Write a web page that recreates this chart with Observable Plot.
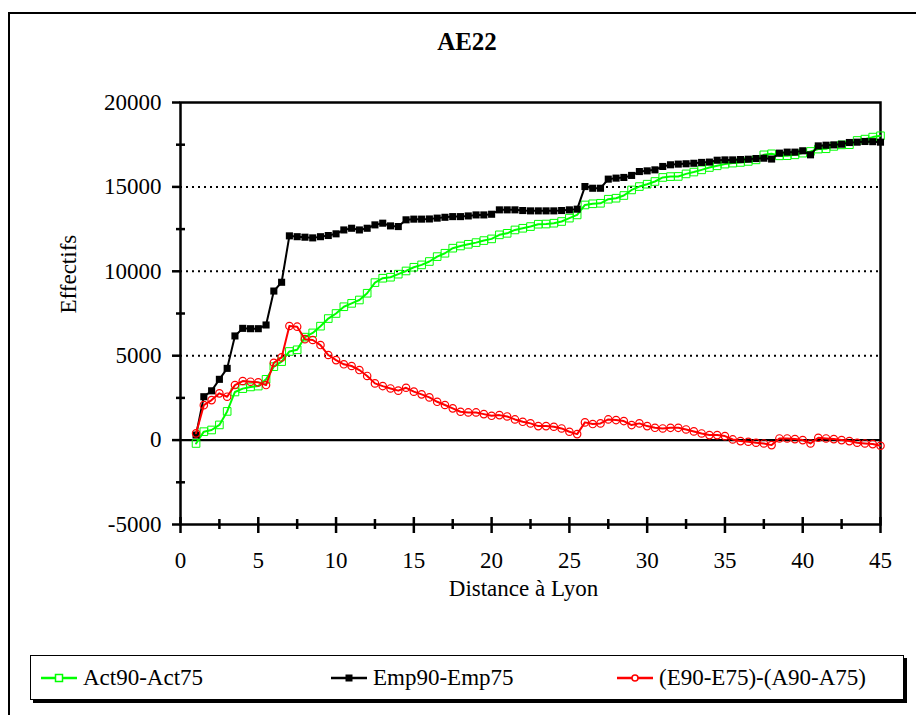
<!DOCTYPE html>
<html>
<head>
<meta charset="utf-8">
<script src="https://cdn.jsdelivr.net/npm/d3@7"></script>
<script src="https://cdn.jsdelivr.net/npm/@observablehq/plot@0.6"></script>
<style>
  html, body { margin: 0; padding: 0; background: #fff; overflow: hidden; }
  #wrap { position: relative; width: 916px; height: 715px; font-family: "Liberation Serif", "Times New Roman", serif; }
  #outer { position: absolute; left: 8px; top: 12px; width: 940px; height: 740px; border: 2px solid #000; box-sizing: border-box; }
  #title { position: absolute; left: 0; top: 29px; width: 934px; text-align: center; font-weight: bold; font-size: 25px; line-height: 26px; }
  #chart { position: absolute; left: 0; top: 0; }
  #legend { position: absolute; left: 30px; top: 655px; width: 874px; height: 45px; border: 1.5px solid #000; box-sizing: border-box; box-shadow: 3px 3px 0 #000; background: #fff; font-size: 23px; }
  .item { position: absolute; top: 0; height: 100%; display: flex; align-items: center; white-space: nowrap; }
  .item svg { margin-right: 6px; }
</style>
</head>
<body>
<div id="wrap">
  <div id="outer"></div>
  <div id="title"></div>
  <div id="chart"></div>
  <div id="legend"></div>
</div>
<script>
// ---- data ----
const chartTitle = "AE22";
const xLabel = "Distance à Lyon";
const yLabel = "Effectifs";
const seriesNames = ["Act90-Act75", "Emp90-Emp75", "(E90-E75)-(A90-A75)"];
const seriesColors = ["#00ff00", "#000000", "#ff0000"];

const distance = [1, 1.5, 2, 2.5, 3, 3.5, 4, 4.5, 5, 5.5, 6, 6.5, 7, 7.5, 8, 8.5, 9, 9.5, 10, 10.5,
  11, 11.5, 12, 12.5, 13, 13.5, 14, 14.5, 15, 15.5, 16, 16.5, 17, 17.5, 18, 18.5, 19, 19.5, 20, 20.5,
  21, 21.5, 22, 22.5, 23, 23.5, 24, 24.5, 25, 25.5, 26, 26.5, 27, 27.5, 28, 28.5, 29, 29.5, 30, 30.5,
  31, 31.5, 32, 32.5, 33, 33.5, 34, 34.5, 35, 35.5, 36, 36.5, 37, 37.5, 38, 38.5, 39, 39.5, 40, 40.5,
  41, 41.5, 42, 42.5, 43, 43.5, 44, 44.5, 45];

const act = [-200, 500, 600, 900, 1700, 2850, 3050, 3150, 3200, 3600, 4350, 4650, 5250, 5350, 6100, 6350, 6750, 7200, 7500, 7900,
  8100, 8300, 8700, 9330, 9590, 9650, 9830, 10020, 10240, 10380, 10580, 10870, 11070, 11370, 11500, 11600, 11700, 11820, 11920, 12160,
  12250, 12450, 12550, 12650, 12790, 12800, 12850, 12950, 13150, 13340, 13930, 14000, 14030, 14270, 14330, 14490, 14820, 15020, 15160, 15320,
  15560, 15610, 15620, 15770, 15880, 16010, 16150, 16250, 16350, 16410, 16450, 16510, 16600, 16900, 16960, 16840, 16850, 16900, 17000, 17100,
  17240, 17260, 17400, 17490, 17500, 17750, 17830, 17950, 18030];

const emp = [300, 2570, 2920, 3600, 4250, 6170, 6620, 6600, 6600, 6820, 8830, 9350, 12100, 12050, 12020, 11980, 12050, 12120, 12220, 12450,
  12550, 12450, 12550, 12750, 12850, 12690, 12650, 13050, 13090, 13090, 13100, 13150, 13200, 13240, 13240, 13280, 13340, 13340, 13380, 13640,
  13640, 13640, 13600, 13580, 13580, 13580, 13580, 13600, 13640, 13680, 15020, 14920, 14920, 15460, 15520, 15560, 15680, 15910, 15950, 16010,
  16210, 16310, 16350, 16370, 16400, 16450, 16470, 16580, 16600, 16600, 16620, 16640, 16680, 16700, 16650, 17000, 17060, 17060, 17140, 16900,
  17430, 17470, 17490, 17530, 17630, 17650, 17690, 17680, 17650];

const diff = [400, 2070, 2370, 2770, 2570, 3260, 3500, 3460, 3420, 3260, 4580, 4900, 6760, 6720, 5980, 5930, 5630, 5040, 4740, 4490,
  4390, 4150, 3800, 3360, 3200, 3060, 2930, 3100, 2870, 2710, 2530, 2270, 2080, 1880, 1680, 1640, 1640, 1540, 1440, 1480,
  1400, 1225, 1085, 990, 830, 830, 790, 690, 495, 356, 1050, 950, 990, 1225, 1186, 1127, 890, 990, 830, 730,
  690, 727, 727, 630, 515, 395, 297, 297, 237, 40, -59, -99, -158, -198, -297, 99, 99, 59, 0, -198,
  138, 99, 59, 0, -59, -158, -198, -237, -336];

const xMajorTicks = [0, 5, 10, 15, 20, 25, 30, 35, 40, 45];
const xMinorTicks = [2.5, 7.5, 12.5, 17.5, 22.5, 27.5, 32.5, 37.5, 42.5];
const yMajorTicks = [-5000, 0, 5000, 10000, 15000, 20000];
const yMinorTicks = [-2500, 2500, 7500, 12500, 17500];
const yGridLines = [5000, 10000, 15000];

// ---- table ----
const table = distance.map((d, i) => ({d, act: act[i], emp: emp[i], diff: diff[i]}));

document.getElementById("title").textContent = chartTitle;

const axisW = 2.5;
const plot = Plot.plot({
  width: 916,
  height: 640,
  marginTop: 102,
  marginBottom: 116,
  marginLeft: 180,
  marginRight: 36,
  style: {fontFamily: "'Liberation Serif', 'Times New Roman', serif", fontSize: "23px", background: "transparent", overflow: "visible", color: "#000"},
  x: {domain: [0, 45]},
  y: {domain: [-5000, 20000]},
  marks: [
    Plot.ruleY(yGridLines, {stroke: "#000", strokeWidth: 2, strokeDasharray: "2,4"}),
    Plot.ruleY([0], {stroke: "#000", strokeWidth: 2.2}),
    Plot.frame({stroke: "#000", strokeWidth: axisW}),
    Plot.axisY({ticks: yMajorTicks, tickSize: 8, fill: "none", label: null, strokeWidth: axisW}),
    Plot.axisY({ticks: yMinorTicks, tickSize: 9, dx: 5, fill: "none", label: null, strokeWidth: axisW}),
    Plot.axisY({ticks: yMajorTicks, tickSize: 0, tickPadding: 19, stroke: "none", label: null, tickFormat: d => String(d), fill: "#000"}),
    Plot.axisX({ticks: xMajorTicks, tickSize: 16, dy: -7, fill: "none", label: null, strokeWidth: axisW}),
    Plot.axisX({ticks: xMinorTicks, tickSize: 10, dy: -5, fill: "none", label: null, strokeWidth: axisW}),
    Plot.axisX({ticks: xMajorTicks, tickSize: 0, tickPadding: 27, stroke: "none", label: null, tickFormat: d => String(d), fill: "#000"}),
    Plot.text([xLabel], {text: d => d, frameAnchor: "bottom", dy: 71, dx: -7, fill: "#000"}),
    Plot.text([yLabel], {text: d => d, frameAnchor: "left", rotate: -90, dx: -112, fill: "#000"}),
    // Act90-Act75
    Plot.line(table, {x: "d", y: "act", stroke: seriesColors[0], strokeWidth: 2}),
    Plot.dot(table, {x: "d", y: "act", symbol: "square", r: 4.3, stroke: seriesColors[0], fill: "none", strokeWidth: 1}),
    // Emp90-Emp75
    Plot.line(table, {x: "d", y: "emp", stroke: seriesColors[1], strokeWidth: 2}),
    Plot.dot(table, {x: "d", y: "emp", symbol: "square", r: 4, fill: seriesColors[1], stroke: "none"}),
    // difference
    Plot.line(table, {x: "d", y: "diff", stroke: seriesColors[2], strokeWidth: 2}),
    Plot.dot(table, {x: "d", y: "diff", symbol: "circle", r: 3.7, stroke: seriesColors[2], fill: "none", strokeWidth: 1.2})
  ]
});
document.getElementById("chart").appendChild(plot);

// ---- legend ----
const legendX = [10, 300, 586];
const legendMarks = ["square-open", "square", "circle"];
const legend = document.getElementById("legend");
seriesNames.forEach((name, i) => {
  const item = document.createElement("div");
  item.className = "item";
  item.style.left = legendX[i] + "px";
  const ns = "http://www.w3.org/2000/svg";
  const s = document.createElementNS(ns, "svg");
  s.setAttribute("width", 36); s.setAttribute("height", 12);
  const ln = document.createElementNS(ns, "line");
  ln.setAttribute("x1", 0); ln.setAttribute("x2", 36); ln.setAttribute("y1", 6); ln.setAttribute("y2", 6);
  ln.setAttribute("stroke", seriesColors[i]); ln.setAttribute("stroke-width", 2.5);
  s.appendChild(ln);
  let m;
  if (legendMarks[i] === "circle") {
    m = document.createElementNS(ns, "circle");
    m.setAttribute("cx", 18); m.setAttribute("cy", 6); m.setAttribute("r", 3);
    m.setAttribute("fill", "#fff"); m.setAttribute("stroke", seriesColors[i]); m.setAttribute("stroke-width", 1.5);
  } else {
    m = document.createElementNS(ns, "rect");
    m.setAttribute("x", 14.5); m.setAttribute("y", 2.5); m.setAttribute("width", 7); m.setAttribute("height", 7);
    if (legendMarks[i] === "square") { m.setAttribute("fill", seriesColors[i]); }
    else { m.setAttribute("fill", "#fff"); m.setAttribute("stroke", seriesColors[i]); m.setAttribute("stroke-width", 1.5); }
  }
  s.appendChild(m);
  item.appendChild(s);
  const t = document.createElement("span");
  t.textContent = name;
  item.appendChild(t);
  legend.appendChild(item);
});
</script>
</body>
</html>
